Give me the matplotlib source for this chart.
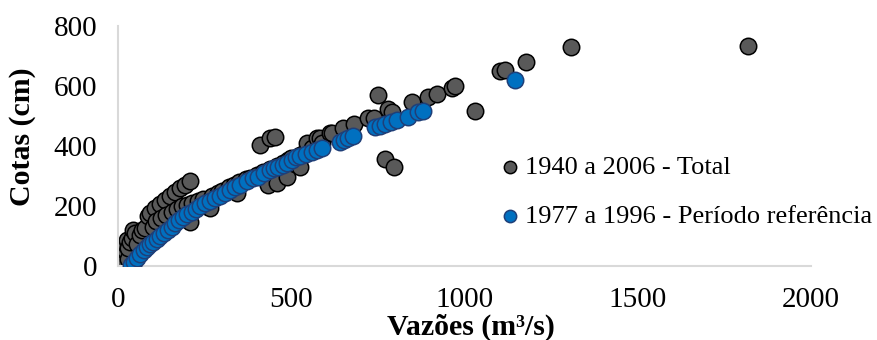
import matplotlib.pyplot as plt

plt.rcParams['font.family'] = ['Liberation Serif', 'DejaVu Serif']

# 1940 a 2006 - Total (vazão m3/s, cota cm)
total_q = [0, 5, 10, 12, 15, 18, 20, 22, 26, 28, 30, 35, 40, 44, 50, 55, 63, 70, 78, 87,
           92, 101, 107, 110, 121, 125, 136, 140, 150, 155, 165, 170, 179, 185, 193, 200,
           208, 208, 215, 230, 245, 255, 265, 270, 290, 300, 320, 335, 343, 350, 370, 380,
           400, 410, 420, 433, 439, 440, 453, 458, 460, 475, 487, 490, 500, 510, 525, 525,
           540, 545, 560, 574, 583, 590, 612, 617, 650, 681, 722, 740, 750, 771, 779, 790,
           797, 848, 895, 921, 964, 972, 1030, 1102, 1117, 1177, 1307, 1818]
total_h = [20, 15, 28, 20, 40, 10, 55, 70, 87, 25, 60, 80, 95, 121, 110, 75, 104, 120, 127, 166,
           177, 131, 193, 150, 207, 160, 220, 170, 234, 180, 247, 190, 261, 200, 271, 205,
           282, 148, 210, 218, 225, 200, 194, 235, 245, 250, 262, 270, 243, 280, 290, 295,
           305, 405, 315, 271, 427, 325, 431, 278, 335, 345, 298, 355, 360, 340, 331, 370,
           380, 411, 395, 427, 428, 410, 445, 444, 461, 472, 495, 495, 569, 358, 522, 512,
           331, 546, 565, 575, 592, 599, 518, 649, 652, 679, 729, 733]

# 1977 a 1996 - Período referência
ref_q = [37, 46, 55, 64, 74, 83, 92, 102, 112, 121, 133, 145, 155, 165, 177, 188, 200, 213,
         225, 237, 251, 265, 279, 294, 308, 323, 337, 352, 371, 390, 404, 421, 439, 450, 462,
         475, 487, 502, 514, 525, 542, 560, 574, 588, 640, 652, 665, 678, 741, 755, 771, 788,
         805, 837, 866, 880, 1146]
ref_h = [3, 15, 27, 40, 52, 62, 72, 80, 90, 100, 110, 120, 131, 143, 153, 163, 172, 181,
         191, 201, 210, 218, 226, 234, 244, 254, 262, 271, 283, 294, 298, 310, 321, 326, 331,
         338, 345, 355, 362, 368, 374, 381, 388, 395, 412, 420, 428, 434, 462, 467, 472, 480,
         488, 498, 514, 518, 619]

fig = plt.figure(figsize=(8.77, 3.4), dpi=100)
ax = fig.add_axes([0.1345, 0.2176, 0.7902, 0.7059])

ax.scatter(total_q, total_h, s=140, color="#595959", edgecolors="black", linewidths=1.1,
           label="1940 a 2006 - Total", zorder=2)
ax.scatter(ref_q, ref_h, s=140, color="#0070C0", edgecolors="#1F3F78", linewidths=1.1,
           label="1977 a 1996 - Período referência", zorder=3)

ax.set_xlim(0, 2000)
ax.set_ylim(0, 800)
ax.set_xticks(range(0, 2001, 500))
ax.set_yticks(range(0, 801, 200))
ax.tick_params(length=0, labelsize=21, pad=15)
for s in ["top", "right"]:
    ax.spines[s].set_visible(False)
for s in ["left", "bottom"]:
    ax.spines[s].set_color("#D9D9D9")
    ax.spines[s].set_linewidth(1.5)

ax.set_xlabel("Vazões (m³/s)", fontsize=21.5, fontweight="bold")
ax.set_ylabel("Cotas (cm)", fontsize=21.5, fontweight="bold")
ax.xaxis.set_label_coords(0.51, -0.198)
ax.yaxis.set_label_coords(-0.118, 0.54)

ax.legend(loc="center left", bbox_to_anchor=(0.555, 0.31), frameon=False, fontsize=19,
          markerscale=0.75, handlelength=0.6, handletextpad=0.25, borderpad=0,
          labelspacing=0.95, borderaxespad=0)

plt.savefig("out.png", dpi=100)
